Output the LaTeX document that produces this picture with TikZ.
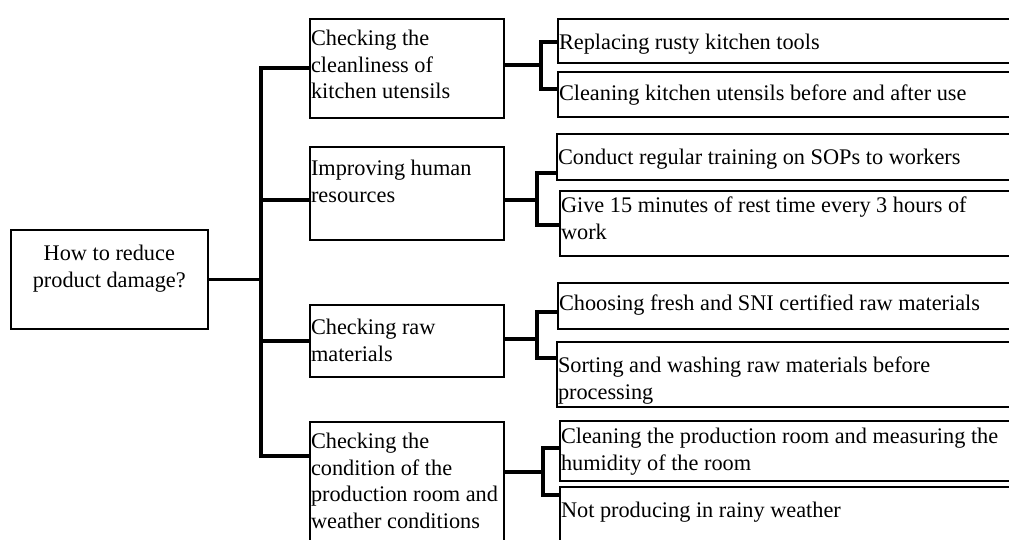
\documentclass[tikz,border=0pt]{standalone}
\usepackage{fontspec}
\setmainfont{Liberation Serif}
\usetikzlibrary{calc}
\newcommand\bxt[4]{\parbox[t][#2][t]{#1}{\raggedright\leftskip=1.2pt\rule{0pt}{#3}#4}}
\newcommand\bxc[4]{\parbox[t][#2][t]{#1}{\centering\rule{0pt}{#3}#4}}
\begin{document}
\begin{tikzpicture}[x=1pt,y=-1pt,
  box/.style={draw, line width=1.6pt, inner sep=0pt, anchor=north west,
    font=\fontsize{22.3}{26.4}\selectfont},
  conn/.style={line width=3.6pt, line join=miter}]
\useasboundingbox (0,0) rectangle (1009,540);
\clip (0,0) rectangle (1009,540);
% root
\node[box] (root) at (10,229) {\bxc{197pt}{99pt}{31pt}{How to reduce\\product damage?}};
% middle
\node[box] (m1) at (309,18) {\bxt{194pt}{99pt}{27pt}{Checking the\\cleanliness of\\kitchen utensils}};
\node[box] (m2) at (309,146) {\bxt{194pt}{93pt}{29pt}{Improving human\\resources}};
\node[box] (m3) at (309,304) {\bxt{194pt}{72pt}{30pt}{Checking raw\\materials}};
\node[box] (m4) at (309,421) {\bxt{194pt}{140pt}{27pt}{Checking the\\condition of the\\production room and\\weather conditions}};
% right
\node[box] (a) at (557,18) {\bxt{460pt}{44pt}{31pt}{Replacing rusty kitchen tools}};
\node[box] (b) at (557,71) {\bxt{460pt}{45pt}{29pt}{Cleaning kitchen utensils before and after use}};
\node[box] (c) at (556,133) {\bxt{460pt}{46pt}{31pt}{Conduct regular training on SOPs to workers}};
\node[box] (d) at (559,190) {\bxt{460pt}{65pt}{22pt}{Give 15 minutes of rest time every 3 hours of\\work}};
\node[box] (e) at (557,282) {\bxt{460pt}{46pt}{28pt}{Choosing fresh and SNI certified raw materials}};
\node[box] (f) at (556,341) {\bxt{460pt}{65pt}{31pt}{Sorting and washing raw materials before\\processing}};
\node[box] (g) at (559,420) {\bxt{460pt}{60pt}{23pt}{Cleaning the production room and measuring the\\humidity of the room}};
\node[box] (h) at (559,486) {\bxt{460pt}{80pt}{31pt}{Not producing in rainy weather}};
% trunk
\coordinate (tr) at (261,0);
\coordinate (p2) at ($(m2.north west)+(0,54)$);
\coordinate (p4) at ($(m4.north west)+(0,35)$);
\draw[conn] (root.east) -- (root.east -| tr);
\draw[conn] (m1.west) -- (m1.west -| tr) -- (p4 -| tr) -- (p4);
\draw[conn] (p2) -- (p2 -| tr);
\draw[conn] (m3.west) -- (m3.west -| tr);
% group 1
\coordinate (k1) at (541,0);
\coordinate (q1) at ($(m1.east)+(0,-3)$);
\coordinate (s1) at ($(b.north west)+(0,18)$);
\draw[conn] (q1) -- (q1 -| k1);
\draw[conn] ($(a.west)+(0,1)$) -- ($(a.west -| k1)+(0,1)$) -- (s1 -| k1) -- (s1);
% group 2
\coordinate (k2) at (537,0);
\coordinate (r2) at ($(c.north west)+(0,40)$);
\coordinate (s2) at ($(d.north west)+(0,35)$);
\draw[conn] (p2 -| m2.east) -- (p2 -| k2);
\draw[conn] (r2) -- (r2 -| k2) -- (s2 -| k2) -- (s2);
% group 3
\coordinate (r3) at ($(e.north west)+(0,30)$);
\coordinate (s3) at ($(f.north west)+(0,17)$);
\coordinate (q3) at ($(m3.east)+(0,-2)$);
\draw[conn] (q3) -- (q3 -| k2);
\draw[conn] (r3) -- (r3 -| k2) -- (s3 -| k2) -- (s3);
% group 4
\coordinate (k4) at (543,0);
\coordinate (q4) at ($(m4.north west)+(194,51)$);
\coordinate (r4) at ($(g.north west)+(0,28)$);
\coordinate (s4) at ($(h.north west)+(0,9)$);
\draw[conn] (q4) -- (q4 -| k4);
\draw[conn] (r4) -- (r4 -| k4) -- (s4 -| k4) -- (s4);
\end{tikzpicture}
\end{document}
